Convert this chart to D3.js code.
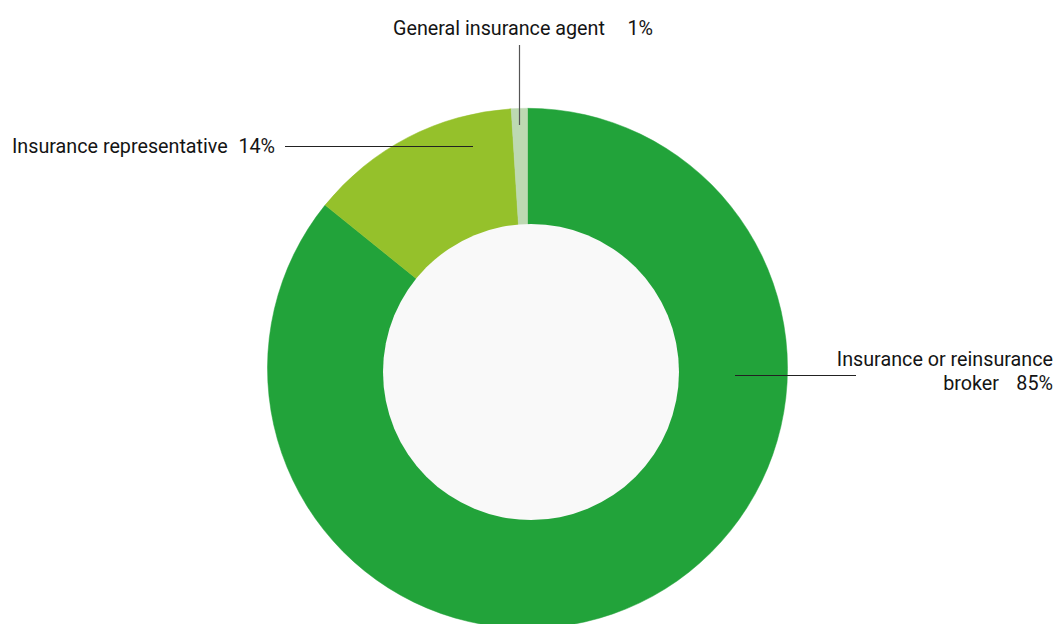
<!DOCTYPE html>
<html>
<head>
<meta charset="utf-8">
<script src="https://cdn.jsdelivr.net/npm/d3@7"></script>
<style>
  html, body { margin: 0; padding: 0; background: #ffffff; }
  svg { display: block; }
  text { font-family: "Roboto", "Liberation Sans Narrow", sans-serif; fill: #141414; font-size: 21px; }
</style>
</head>
<body>
<svg id="chart" width="1057" height="624"></svg>
<script>
// ---- data ----
const categories = ["Insurance or reinsurance broker", "Insurance representative", "General insurance agent"];
const values = [85.8, 13.2, 1.0];
const valueLabels = ["85%", "14%", "1%"];
const colors = ["#22a33a", "#95c12b", "#bdd9b2"];

// ---- layout ----
const cx = 527.5, cy = 368.3, outerR = 260;
const holeCx = 531, holeCy = 372, holeR = 148;
const SX = 0.94; // horizontal condensing of the label font

const svg = d3.select("#chart");

const pie = d3.pie().value(d => d.value).sort(null).startAngle(0).endAngle(2 * Math.PI);
const arc = d3.arc().innerRadius(130).outerRadius(outerR);
const data = categories.map((c, i) => ({ name: c, value: values[i], label: valueLabels[i], color: colors[i] }));
const arcs = pie(data);

const g = svg.append("g").attr("transform", `translate(${cx},${cy})`);
g.selectAll("path").data(arcs).join("path")
  .attr("d", arc)
  .attr("fill", d => d.data.color)
  .attr("stroke", d => d.data.color)
  .attr("stroke-width", 0.5);

svg.append("circle").attr("cx", holeCx).attr("cy", holeCy).attr("r", holeR).attr("fill", "#f9f9f9");

function label(x, y, txt, anchor, size) {
  const fs = size || 21;
  svg.append("text")
    .attr("transform", `translate(${x},${y}) scale(${SX * 21 / fs},1)`)
    .attr("text-anchor", anchor || "start")
    .style("font-size", fs + "px")
    .text(txt);
}

// Broker (right, two lines, right aligned)
svg.append("line").attr("x1", 735).attr("x2", 856).attr("y1", 375.5).attr("y2", 375.5)
  .attr("stroke", "#222").attr("stroke-width", 1);
label(1053, 366, "Insurance or reinsurance", "end", 20);
label(999, 389.5, "broker", "end", 20);
label(1053, 389.5, data[0].label, "end", 20);

// Representative (left)
svg.append("line").attr("x1", 285).attr("x2", 473).attr("y1", 146.5).attr("y2", 146.5)
  .attr("stroke", "#222").attr("stroke-width", 1);
label(12, 153, "Insurance representative");
label(275, 153, data[1].label, "end");

// Agent (top)
svg.append("line").attr("x1", 519.5).attr("x2", 519.5).attr("y1", 45).attr("y2", 125)
  .attr("stroke", "#555").attr("stroke-width", 1.2);
label(393, 35, "General insurance agent");
label(653, 35, data[2].label, "end");
</script>
</body>
</html>
